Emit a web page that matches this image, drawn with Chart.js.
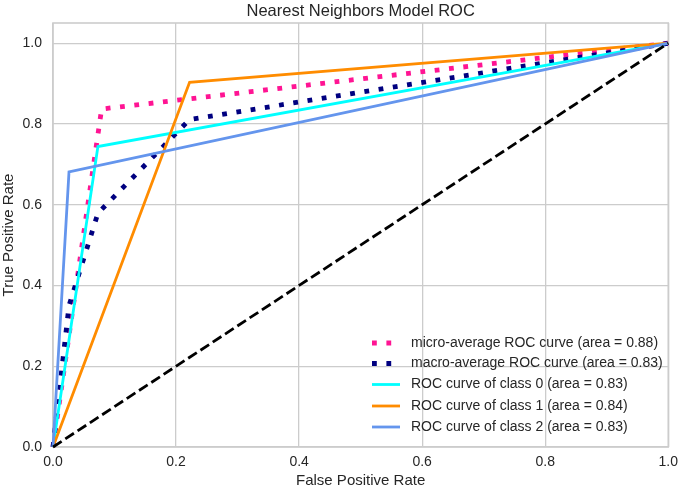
<!DOCTYPE html>
<html><head><meta charset="utf-8">
<script src="https://cdn.jsdelivr.net/npm/chart.js@4"></script>
<style>html,body{margin:0;padding:0;background:#fff}#wrap{width:685px;height:490px}</style>
</head><body><div id="wrap"><canvas id="c" width="685" height="490"></canvas></div>
<script>
const title = "Nearest Neighbors Model ROC";
const xTitle = "False Positive Rate";
const yTitle = "True Positive Rate";
const tickValues = [0, 0.2, 0.4, 0.6, 0.8, 1.0];

const microFpr = [0, 0.079, 1];
const microTpr = [0, 0.837, 1];
const macroFpr = [0, 0.026, 0.073, 0.222, 1];
const macroTpr = [0, 0.350, 0.579, 0.811, 1];
const class0Fpr = [0, 0.073, 1];
const class0Tpr = [0, 0.744, 1];
const class1Fpr = [0, 0.222, 1];
const class1Tpr = [0, 0.903, 1];
const class2Fpr = [0, 0.026, 1];
const class2Tpr = [0, 0.681, 1];
const diagFpr = [0, 1];
const diagTpr = [0, 1];

const labels = [
  "micro-average ROC curve (area = 0.88)",
  "macro-average ROC curve (area = 0.83)",
  "ROC curve of class 0 (area = 0.83)",
  "ROC curve of class 1 (area = 0.84)",
  "ROC curve of class 2 (area = 0.83)"
];

const pts = (xs, ys) => xs.map((x, i) => ({x: x, y: ys[i]}));
const FONT = "'Liberation Sans', Arial, Helvetica, sans-serif";
const TXT = '#262626';
const GRID = '#cccccc';

const dotted = [4.8, 9.6];
const datasets = [
  {label: labels[0], data: pts(microFpr, microTpr), borderColor: '#ff1493', borderWidth: 4.8, borderDash: dotted, order: 6},
  {label: labels[1], data: pts(macroFpr, macroTpr), borderColor: '#000080', borderWidth: 4.8, borderDash: dotted, order: 5},
  {label: labels[2], data: pts(class0Fpr, class0Tpr), borderColor: '#00ffff', borderWidth: 2.8, order: 4},
  {label: labels[3], data: pts(class1Fpr, class1Tpr), borderColor: '#ff8c00', borderWidth: 2.8, order: 3},
  {label: labels[4], data: pts(class2Fpr, class2Tpr), borderColor: '#6495ed', borderWidth: 2.8, order: 2},
  {label: '', data: pts(diagFpr, diagTpr), borderColor: '#000000', borderWidth: 2.8, borderDash: [10.3, 4.4], order: 1, noLegend: true}
].map(d => Object.assign({showLine: true, pointRadius: 0, pointHoverRadius: 0, fill: false, tension: 0, borderCapStyle: 'butt', borderJoinStyle: 'miter', clip: false}, d));

const framePlugin = {
  id: 'frame',
  beforeDatasetsDraw(chart) {
    const a = chart.chartArea, ctx = chart.ctx;
    ctx.save();
    ctx.strokeStyle = GRID;
    ctx.lineWidth = 1.6;
    ctx.strokeRect(a.left, a.top, a.right - a.left, a.bottom - a.top);
    ctx.restore();
  }
};

const titlePlugin = {
  id: 'axesTitle',
  afterDraw(chart) {
    const a = chart.chartArea, ctx = chart.ctx;
    ctx.save();
    ctx.font = '16.5px ' + FONT;
    ctx.fillStyle = TXT;
    ctx.textAlign = 'center';
    ctx.textBaseline = 'middle';
    ctx.fillText(title, (a.left + a.right) / 2, 11);
    ctx.restore();
  }
};

const legendPlugin = {
  id: 'innerLegend',
  afterDatasetsDraw(chart) {
    const ctx = chart.ctx;
    const rows = [343, 363.5, 384.5, 406, 427];
    ctx.save();
    ctx.font = '14px ' + FONT;
    ctx.textBaseline = 'middle';
    ctx.textAlign = 'left';
    let r = 0;
    chart.data.datasets.forEach(ds => {
      if (ds.noLegend) return;
      const y = rows[r++];
      ctx.save();
      ctx.strokeStyle = ds.borderColor;
      ctx.lineWidth = ds.borderWidth;
      ctx.lineCap = 'butt';
      ctx.setLineDash(ds.borderDash || []);
      ctx.beginPath();
      ctx.moveTo(372, y);
      ctx.lineTo(400, y);
      ctx.stroke();
      ctx.restore();
      ctx.fillStyle = TXT;
      ctx.fillText(ds.label, 411, y);
    });
    ctx.restore();
  }
};

const keepTicks = scale => { scale.ticks = tickValues.map(v => ({value: v})); };

new Chart(document.getElementById('c'), {
  type: 'scatter',
  data: {datasets: datasets},
  options: {
    responsive: false,
    animation: false,
    devicePixelRatio: 1,
    layout: {padding: {left: 0, right: 12, top: 23, bottom: 0}},
    plugins: {
      legend: {display: false},
      tooltip: {enabled: false},
      title: {display: false, text: title}
    },
    scales: {
      x: {
        type: 'linear', min: 0, max: 1,
        afterBuildTicks: keepTicks,
        afterFit(s) { s.height = 43; },
        grid: {color: GRID, lineWidth: 1.3, drawTicks: false},
        border: {display: false},
        ticks: {color: TXT, padding: 7, font: {family: FONT, size: 14}, callback: v => Number(v).toFixed(1), maxRotation: 0, autoSkip: false},
        title: {display: true, text: xTitle, color: TXT, font: {family: FONT, size: 15}, padding: {top: 0, bottom: 0}}
      },
      y: {
        type: 'linear', min: 0, max: 1.05,
        afterBuildTicks: keepTicks,
        afterFit(s) { s.width = 53; },
        grid: {color: GRID, lineWidth: 1.3, drawTicks: false},
        border: {display: false},
        ticks: {color: TXT, padding: 11, font: {family: FONT, size: 14}, callback: v => Number(v).toFixed(1), autoSkip: false},
        title: {display: true, text: yTitle, color: TXT, font: {family: FONT, size: 15}, padding: {top: 0, bottom: 0}}
      }
    }
  },
  plugins: [framePlugin, legendPlugin, titlePlugin]
});
</script>
</body></html>
